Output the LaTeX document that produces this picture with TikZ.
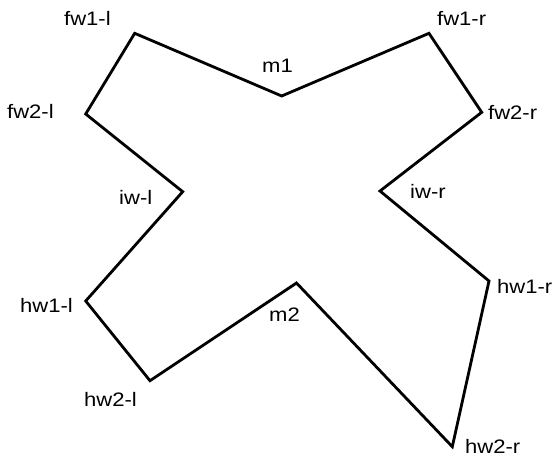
\documentclass[tikz,border=0pt]{standalone}
\usepackage{fontspec}
\setmainfont{Liberation Sans}[FakeStretch=1.13]
\begin{document}
\begin{tikzpicture}[x=1bp,y=-1bp,
  lbl/.style={anchor=base west,inner sep=0pt,font=\fontsize{19.5bp}{22bp}\selectfont},
  outline/.style={draw=black,line width=2.8bp,line join=miter}]
\useasboundingbox (0,0) rectangle (556,459);
% vertices
\coordinate (vfw1l) at (134.7,33.3);
\coordinate (vm1)   at (281.7,96);
\coordinate (vfw1r) at (429,33.3);
\coordinate (vfw2r) at (481.7,112.3);
\coordinate (viwr)  at (380,191);
\coordinate (vhw1r) at (489,281);
\coordinate (vhw2r) at (452.3,446.7);
\coordinate (vm2)   at (296.5,283);
\coordinate (vhw2l) at (150,380.7);
\coordinate (vhw1l) at (85.7,301);
\coordinate (viwl)  at (182.7,191.7);
\coordinate (vfw2l) at (85.7,114);
\draw[outline] (vfw1l) -- (vm1) -- (vfw1r) -- (vfw2r) -- (viwr) -- (vhw1r) -- (vhw2r)
  -- (vm2) -- (vhw2l) -- (vhw1l) -- (viwl) -- (vfw2l) -- cycle;
% labels
\node[lbl] (lfw1l) at (64,26) {fw1-l};
\node[lbl] (lfw1r) at (437,26) {fw1-r};
\node[lbl] (lm1)   at (262,73) {m1};
\node[lbl] (lfw2l) at (7,119) {fw2-l};
\node[lbl] (lfw2r) at (488,120) {fw2-r};
\node[lbl] (liwl)  at (119,204.7) {iw-l};
\node[lbl] (liwr)  at (410,198.3) {iw-r};
\node[lbl] (lhw1l) at (20,312.7) {hw1-l};
\node[lbl] (lhw1r) at (497,293) {hw1-r};
\node[lbl] (lhw2l) at (84,406.7) {hw2-l};
\node[lbl] (lm2)   at (269,321.7) {m2};
\node[lbl] (lhw2r) at (465,453) {hw2-r};
\end{tikzpicture}
\end{document}
